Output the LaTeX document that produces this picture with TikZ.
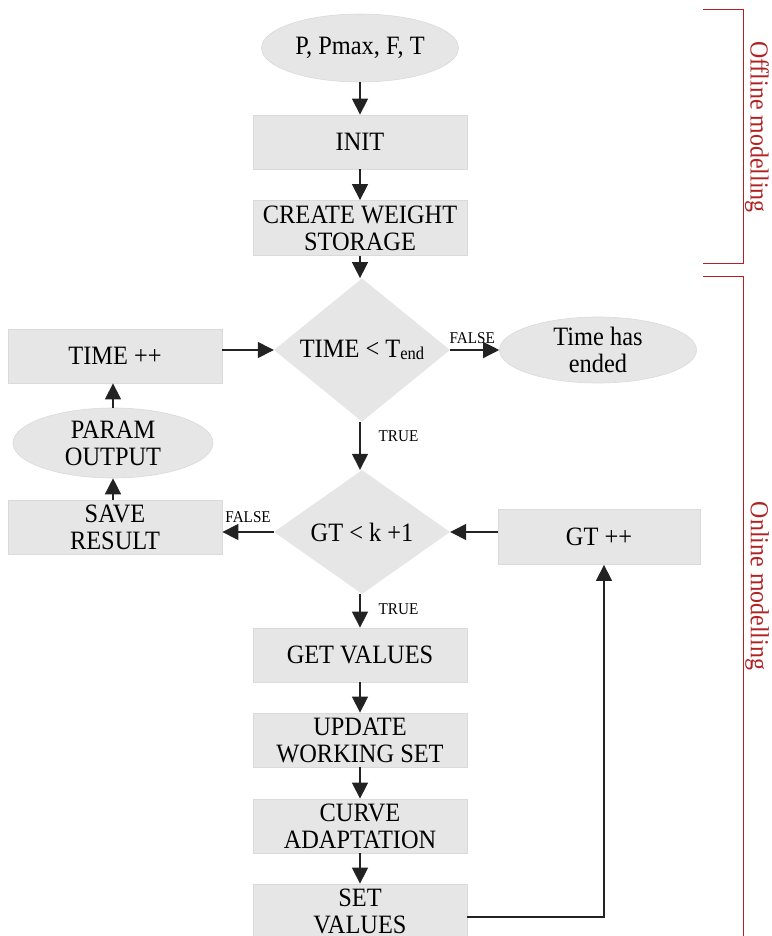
\documentclass[tikz,border=0pt]{standalone}
\usepackage{fontspec}
\setmainfont{Liberation Serif}[FakeStretch=0.92]
\usetikzlibrary{shapes.geometric,arrows.meta,calc}
\definecolor{boxfill}{HTML}{E6E6E6}
\definecolor{boxedge}{HTML}{DADADA}
\definecolor{linecol}{HTML}{222222}
\definecolor{brack}{HTML}{B22222}
\begin{document}
\begin{tikzpicture}[x=1pt,y=-1pt,
  every node/.style={font=\fontsize{26.5}{27}\selectfont, align=center, inner sep=0pt},
  stepbox/.style={rectangle, fill=boxfill, draw=boxedge, line width=0.8pt,
    minimum width=214pt, minimum height=54pt},
  termnode/.style={ellipse, fill=boxfill, draw=boxedge, line width=0.6pt,
    minimum width=197pt, minimum height=68pt},
  testnode/.style={diamond, fill=boxfill, draw=none,
    minimum width=176pt, minimum height=124pt},
  flow/.style={draw=linecol, line width=1.4pt, -{Triangle[length=16pt,width=16pt]}},
  tag/.style={font=\fontsize{16.5}{17}\selectfont},
  bracket/.style={draw=brack, line width=1pt},
  side/.style={text=brack, rotate=-90, font=\fontsize{26}{26}\selectfont}]
\useasboundingbox (0,0) rectangle (771,936);
\begin{scope}
\clip (0,0) rectangle (771,936);

% main column
\node[termnode] (start) at (360,48) {P, Pmax, F, T};
\node[stepbox] (init) at (360,142) {INIT};
\node[stepbox, minimum height=55pt] (store) at (360,228) {CREATE WEIGHT\\STORAGE};
\node[testnode] (tdiam) at (362,350) {TIME < T\raisebox{-1.5pt}{\fontsize{18}{18}\selectfont end}};
\node[termnode, minimum height=66pt] (ended) at (598,350) {Time has\\ended};
\node[stepbox] (timeinc) at (115,356) {TIME ++};
\node[termnode, minimum width=200pt, minimum height=70pt] (param) at (113,443) {PARAM\\OUTPUT};
\node[stepbox] (save) at (115,527) {SAVE\\RESULT};
\node[testnode] (gdiam) at (362,532) {GT < k +1};
\node[stepbox, minimum width=202pt, minimum height=55pt] (gtinc) at (599,537) {GT ++};
\node[stepbox] (get) at (360,655) {GET VALUES};
\node[stepbox] (update) at (360,740) {UPDATE\\WORKING SET};
\node[stepbox] (curve) at (360,826) {CURVE\\ADAPTATION};
\node[stepbox] (setv) at (360,911) {SET\\VALUES};

% connectors
\draw[flow] (start) -- (init);
\draw[flow] (init) -- (store);
\draw[flow] (store) -- (store.south |- tdiam.north);
\draw[flow] (timeinc.east |- tdiam.west) -- (tdiam.west);
\draw[flow] (tdiam.east) -- node[tag, above=6pt, pos=0.45] {FALSE} (ended.west);
\draw[flow] (store.south |- tdiam.south) -- node[tag, right=18pt, pos=0.3] {TRUE} (store.south |- gdiam.north);
\draw[flow] (param.north) -- (param.north |- timeinc.south);
\draw[flow] (save.north -| param.north) -- (param.south);
\draw[flow] (gdiam.west) -- node[tag, above=9pt, pos=0.5] {FALSE} (save.east |- gdiam.west);
\draw[flow] (gtinc.west |- gdiam.east) -- (gdiam.east);
\draw[flow] (get.north |- gdiam.south) -- node[tag, right=18pt, pos=0.45] {TRUE} (get.north);
\draw[flow] (get) -- (update);
\draw[flow] (update) -- (curve);
\draw[flow] (curve) -- (setv);
\draw[flow] ([yshift=-6pt]setv.east) -| ([xshift=5pt]gtinc.south);

% phase brackets
\coordinate (offtop) at (703,10);
\coordinate (offbot) at (703,263);
\coordinate (ontop) at (703,276);
\coordinate (onbot) at (743,940);
\draw[bracket] (offtop) -- (743,10) -- (743,263) -- (offbot);
\draw[bracket] (ontop) -- (743,276) -- (onbot);
\node[side] (offlab) at (757,127) {Offline modelling};
\node[side] (onlab) at (757,586) {Online modelling};
\end{scope}
\end{tikzpicture}
\end{document}
